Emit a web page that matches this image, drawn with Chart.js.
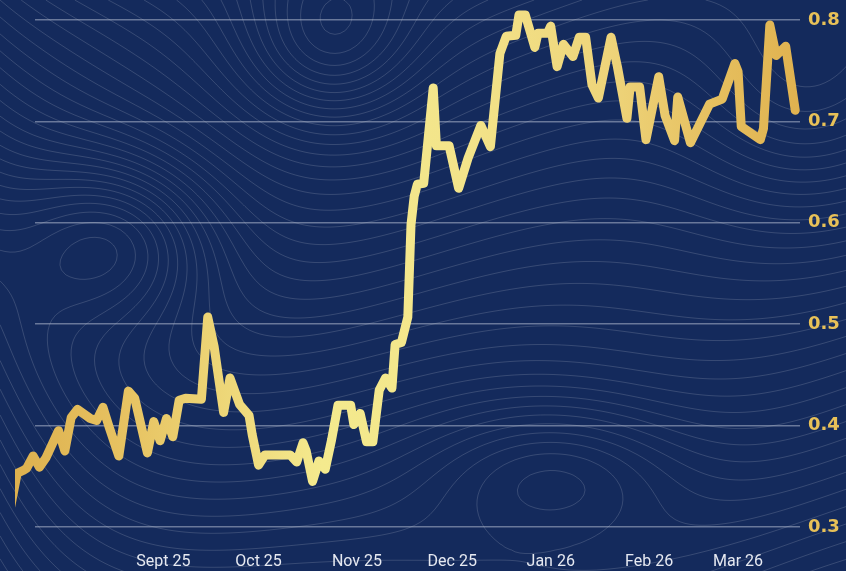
<!DOCTYPE html>
<html>
<head>
<meta charset="utf-8">
<script src="https://cdn.jsdelivr.net/npm/chart.js@4.4.1/dist/chart.umd.min.js"></script>
<style>
  html, body { margin: 0; padding: 0; background: #142a5c; }
  #wrap { width: 846px; height: 571px; }
</style>
</head>
<body>
<div id="wrap"><canvas id="chart" width="846" height="571"></canvas></div>
<script>
// days counted from 1 Sept 2025
const days = [
  -48, -46, -44, -43, -41, -39, -37, -33, -31, -29, -27, -23, -21, -19, -17, -14,
  -11, -9, -5, -3, -1, 1, 3, 5, 7, 12, 14, 16, 19, 21, 24, 27,
  28, 30, 32, 40, 42, 44, 45, 47, 49, 51, 53, 55, 59, 60, 62, 64,
  66, 68, 70, 72, 73, 75, 77, 78, 79, 80, 82, 85, 86, 90, 93, 96,
  100, 103, 106, 108, 111, 112, 114, 117, 118, 121, 122, 124, 126, 129, 131, 133,
  135, 137, 141, 143, 146, 147, 150, 152, 156, 158, 161, 162, 166, 172, 176, 180,
  181, 182, 188, 189, 191, 193, 196, 199
];
const values = [
  0.321, 0.353, 0.356, 0.358, 0.370, 0.359, 0.368, 0.395, 0.375, 0.408, 0.416, 0.407, 0.405, 0.418, 0.398, 0.370,
  0.434, 0.427, 0.373, 0.404, 0.385, 0.407, 0.389, 0.425, 0.427, 0.426, 0.507, 0.478, 0.413, 0.447, 0.421, 0.410,
  0.391, 0.361, 0.371, 0.371, 0.364, 0.383, 0.375, 0.345, 0.365, 0.357, 0.386, 0.420, 0.420, 0.401, 0.412, 0.384,
  0.384, 0.435, 0.447, 0.437, 0.480, 0.482, 0.507, 0.598, 0.626, 0.638, 0.639, 0.733, 0.676, 0.676, 0.634, 0.664,
  0.696, 0.675, 0.767, 0.784, 0.785, 0.805, 0.805, 0.773, 0.787, 0.787, 0.794, 0.754, 0.776, 0.764, 0.783, 0.783,
  0.736, 0.723, 0.783, 0.754, 0.703, 0.734, 0.734, 0.682, 0.744, 0.706, 0.681, 0.724, 0.679, 0.717, 0.722, 0.757,
  0.749, 0.695, 0.682, 0.693, 0.795, 0.765, 0.774, 0.711
];
const monthDays = [0, 30, 61, 91, 122, 153, 181];
const monthLabels = ['Sept 25', 'Oct 25', 'Nov 25', 'Dec 25', 'Jan 26', 'Feb 26', 'Mar 26'];
const yTicks = [0.3, 0.4, 0.5, 0.6, 0.7, 0.8];

// topographic texture for the background
function field(x, y) {
  let f = y - 1.3 * x * Math.exp(-x / 350);
  f += 200 * Math.exp(-((x - 120) ** 2) / (2 * 70 * 70) - ((y - 240) ** 2) / (2 * 60 * 60));
  f -= 150 * Math.exp(-((x - 330) ** 2) / (2 * 60 * 60) - ((y - 40) ** 2) / (2 * 60 * 60));
  f += 120 * Math.exp(-((x - 560) ** 2) / (2 * 90 * 90) - ((y - 470) ** 2) / (2 * 50 * 50));
  f -= 100 * Math.exp(-((x - 800) ** 2) / (2 * 80 * 80) - ((y - 100) ** 2) / (2 * 80 * 80));
  f += 25 * Math.sin(x / 90 + y / 140);
  return f;
}

const bgPlugin = {
  id: 'bg',
  beforeDraw(chart) {
    const { ctx, width, height } = chart;
    ctx.save();
    ctx.fillStyle = '#142a5c';
    ctx.fillRect(0, 0, width, height);
    const step = 5;
    const nx = Math.ceil(width / step) + 1, ny = Math.ceil(height / step) + 1;
    const f = [];
    for (let j = 0; j < ny; j++) {
      const row = [];
      for (let i = 0; i < nx; i++) row.push(field(i * step, j * step));
      f.push(row);
    }
    const gap = 20;
    ctx.beginPath();
    for (let j = 0; j < ny - 1; j++) {
      for (let i = 0; i < nx - 1; i++) {
        const a = f[j][i], b = f[j][i + 1], c = f[j + 1][i + 1], d = f[j + 1][i];
        const lo = Math.min(a, b, c, d), hi = Math.max(a, b, c, d);
        const x0 = i * step, y0 = j * step;
        for (let L = Math.ceil(lo / gap) * gap; L <= hi; L += gap) {
          const pts = [];
          if ((a < L) !== (b < L)) pts.push([x0 + step * (L - a) / (b - a), y0]);
          if ((b < L) !== (c < L)) pts.push([x0 + step, y0 + step * (L - b) / (c - b)]);
          if ((d < L) !== (c < L)) pts.push([x0 + step * (L - d) / (c - d), y0 + step]);
          if ((a < L) !== (d < L)) pts.push([x0, y0 + step * (L - a) / (d - a)]);
          if (pts.length >= 2) { ctx.moveTo(pts[0][0], pts[0][1]); ctx.lineTo(pts[1][0], pts[1][1]); }
          if (pts.length === 4) { ctx.moveTo(pts[2][0], pts[2][1]); ctx.lineTo(pts[3][0], pts[3][1]); }
        }
      }
    }
    ctx.strokeStyle = 'rgba(255,255,255,0.15)';
    ctx.lineWidth = 1;
    ctx.stroke();
    ctx.restore();
  }
};

function lineGradient(context) {
  const chart = context.chart;
  const g = chart.ctx.createLinearGradient(0, 0, chart.width, 0);
  g.addColorStop(0, '#dcae4c');
  g.addColorStop(0.15, '#e7c362');
  g.addColorStop(0.38, '#f4ea8e');
  g.addColorStop(0.55, '#f3e48a');
  g.addColorStop(0.72, '#eed47a');
  g.addColorStop(0.86, '#e5bd5c');
  g.addColorStop(1, '#dcab48');
  return g;
}

new Chart(document.getElementById('chart'), {
  type: 'line',
  data: {
    datasets: [{
      data: days.map((d, i) => ({ x: d, y: values[i] })),
      borderColor: lineGradient,
      borderWidth: 9,
      pointRadius: 0,
      tension: 0,
      borderJoinStyle: 'round',
      borderCapStyle: 'round',
      clip: { left: 20, top: false, right: false, bottom: false }
    }]
  },
  options: {
    responsive: false,
    animation: false,
    layout: { padding: { top: 20, left: 35, right: 0, bottom: 0 } },
    plugins: { legend: { display: false }, tooltip: { enabled: false } },
    scales: {
      x: {
        type: 'linear',
        bounds: 'data',
        // range set here (not via min/max) so points left of the axis still get drawn
        afterDataLimits: s => { s.min = -40.4; s.max = 200.5; },
        grid: { display: false, drawTicks: false },
        border: { display: false },
        afterBuildTicks: s => { s.ticks = monthDays.map(v => ({ value: v })); },
        afterFit: s => { s.height = 44; },
        ticks: {
          autoSkip: false,
          maxRotation: 0,
          padding: 25,
          color: '#e6e9f1',
          font: { family: "'Liberation Sans Narrow', 'Roboto', sans-serif", size: 16 },
          callback: v => monthLabels[monthDays.indexOf(v)]
        }
      },
      y: {
        position: 'right',
        min: 0.3,
        max: 0.8,
        grid: { color: 'rgba(190,198,215,0.5)', lineWidth: 1.5, drawTicks: false },
        border: { display: false },
        afterBuildTicks: s => { s.ticks = yTicks.map(v => ({ value: v })); },
        afterFit: s => { s.width = 46; },
        ticks: {
          padding: 8,
          color: '#e8c158',
          font: { family: "'DejaVu Sans', sans-serif", size: 18, weight: 'bold' },
          callback: v => v.toFixed(1)
        }
      }
    }
  },
  plugins: [bgPlugin]
});
</script>
</body>
</html>
